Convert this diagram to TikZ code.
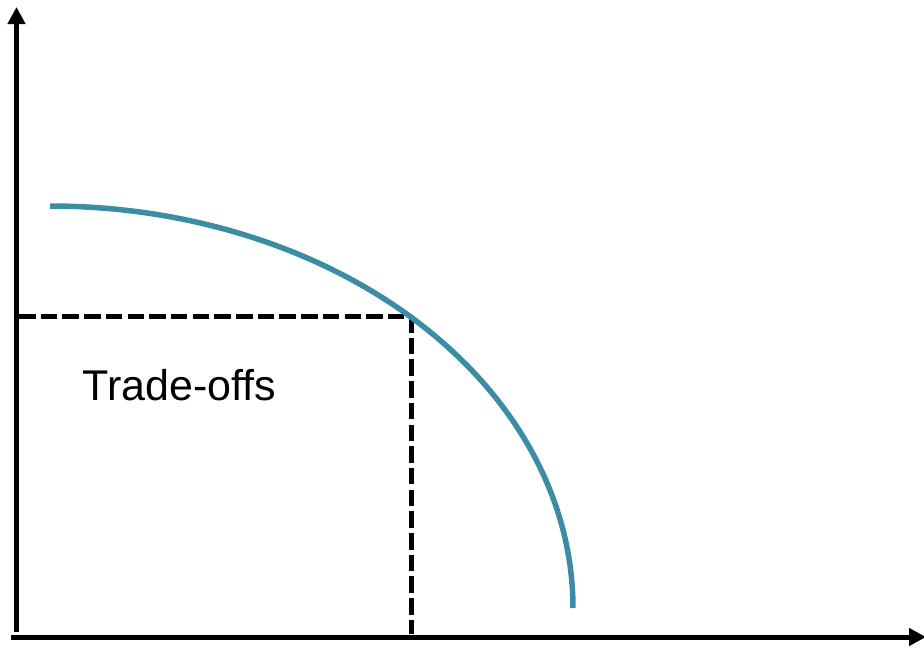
\documentclass[tikz,border=0pt]{standalone}
\usepackage{fontspec}
\setmainfont{Liberation Sans}
\usetikzlibrary{arrows.meta}
\definecolor{curvecol}{RGB}{58,141,165}
\tikzset{
  axisline/.style={line width=5pt, -{Triangle[width=17pt,length=17pt]}},
  guide/.style={line width=5pt, dash pattern=on 16.5pt off 5.2pt},
  frontier/.style={line width=5.5pt, curvecol},
  lbl/.style={font=\fontsize{43}{50}\selectfont, inner sep=0pt, anchor=base}
}
\begin{document}
\begin{tikzpicture}[x=1pt,y=-1pt]
\useasboundingbox (0,0) rectangle (924,649);
\coordinate (ybot) at (16.5,632);
\coordinate (ytop) at (16.5,7);
\coordinate (xleft) at (11,637);
\coordinate (xright) at (926,637);
\coordinate (p) at (411.5,316);
\coordinate (pl) at (19,316);
\coordinate (pb) at (411.5,634);
\draw[axisline] (ybot) -- (ytop);
\draw[axisline] (xleft) -- (xright);
\draw[guide] (pl) -- (p);
\draw[guide] (p) -- (pb);
\draw[frontier] plot[domain=90:0, samples=120, smooth] ({50+523*cos(\x)}, {608-402*sin(\x)});
\node[lbl] (t) at (179.5,400) {Trade-offs};
\end{tikzpicture}
\end{document}
